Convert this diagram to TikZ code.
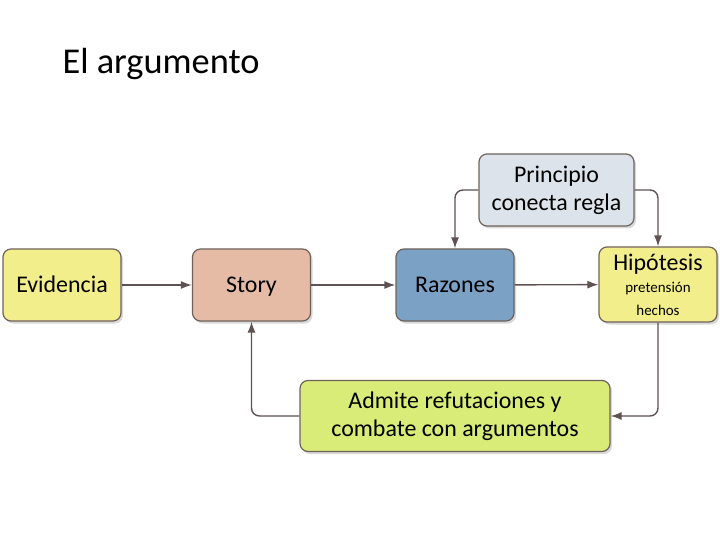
\documentclass[tikz,border=0pt]{standalone}
\usepackage{fontspec}
\setmainfont{Carlito}
\usetikzlibrary{arrows.meta, positioning, shadows}

\definecolor{linegray}{HTML}{5E5252}
\definecolor{boxedge}{HTML}{6E625A}
\definecolor{evidyellow}{HTML}{F3EE8C}
\definecolor{storysalmon}{HTML}{E5BBA6}
\definecolor{razblue}{HTML}{7BA1C5}
\definecolor{princgray}{HTML}{DDE3EA}
\definecolor{admlime}{HTML}{D9EC78}

\begin{document}
\begin{tikzpicture}[
    x=1bp, y=1bp,
    >= {Latex[length=11bp, width=8bp]},
    box/.style={draw=boxedge, line width=1.2bp, rounded corners=8bp,
        minimum width=118bp, minimum height=72bp, align=center,
        font=\fontsize{24}{28}\selectfont,
        drop shadow={shadow xshift=2bp, shadow yshift=-2.5bp, opacity=0.3}},
    oneline/.style={text height=15.5bp, text depth=0bp},
    conn/.style={->, draw=linegray, line width=1.4bp, rounded corners=8bp},
    ]

    \useasboundingbox (0,0) rectangle (720,-540);

    % ==========================================
    % Title
    % ==========================================
    \node[anchor=west, font=\fontsize{36.5}{44}\selectfont] (title) at (59,-64) {El argumento};

    % ==========================================
    % Boxes
    % ==========================================
    \node[box, oneline, fill=evidyellow] (evid) at (62,-285) {Evidencia};
    \node[box, oneline, fill=storysalmon] (story) at (251.5,-285) {Story};
    \node[box, oneline, fill=razblue] (raz) at (455,-285) {Razones};
    \node[box, fill=evidyellow, minimum height=75bp, inner sep=2bp] (hip) at (658,-284.5)
        {Hipótesis\\[-6bp]{\fontsize{15}{24}\selectfont pretensión}\\[-5bp]{\fontsize{15}{24}\selectfont hechos}};
    \node[box, fill=princgray, minimum width=155bp] (princ) at (556.5,-190) {Principio\\conecta regla};
    \node[box, fill=admlime, minimum width=310bp, minimum height=71bp] (adm) at (455,-416)
        {Admite refutaciones y\\combate con argumentos};

    % ==========================================
    % Connectors
    % ==========================================
    \draw[conn] (evid) -- (story);
    \draw[conn] (story) -- (raz);
    \draw[conn] (raz) -- (hip);
    \draw[conn] (princ.west) -| (raz.north);
    \draw[conn] (princ.east) -| (hip.north);
    \draw[conn] (hip.south) |- (adm.east);
    \draw[conn] (adm.west) -| (story.south);

\end{tikzpicture}
\end{document}
